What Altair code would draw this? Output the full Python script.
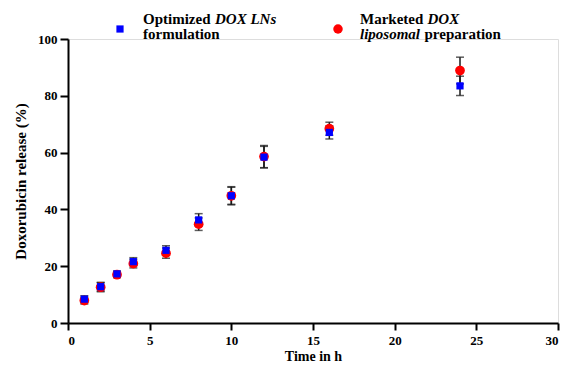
import altair as alt
import pandas as pd

# ---- data ----
times = [1, 2, 3, 4, 6, 8, 10, 12, 16, 24]
opt_mean = [8.4, 12.8, 17.3, 21.6, 25.6, 36.3, 44.8, 58.4, 67.1, 83.5]
opt_sd = [1.2, 1.5, 1.0, 1.4, 1.6, 2.2, 3.0, 3.8, 2.3, 3.4]
mkt_mean = [7.9, 12.6, 17.0, 20.9, 24.6, 34.8, 44.8, 58.6, 68.4, 88.9]
mkt_sd = [1.2, 1.6, 1.0, 1.5, 1.8, 2.2, 3.2, 3.9, 2.3, 4.7]
x_ticks = [0, 5, 10, 15, 20, 25, 30]
y_ticks = [0, 20, 40, 60, 80, 100]

FONT = "Liberation Serif"
BLUE = "#0000FF"
RED = "#FF0000"
BAR = "#1a1a1a"

rows = []
for t, m, s in zip(times, opt_mean, opt_sd):
    rows.append({"time": t, "mean": m, "sd": s, "series": "opt"})
for t, m, s in zip(times, mkt_mean, mkt_sd):
    rows.append({"time": t, "mean": m, "sd": s, "series": "mkt"})
df = pd.DataFrame(rows)

xs = alt.Scale(domain=[0, 30], nice=False, zero=False)
ys = alt.Scale(domain=[0, 100], nice=False)

xax = alt.Axis(values=x_ticks, title="Time in h", grid=False,
               labelFont=FONT, labelFontWeight="bold", labelFontSize=13,
               labelColor="black", labelPadding=4,
               titleFont=FONT, titleFontWeight="bold", titleFontSize=14,
               titleColor="black", titlePadding=2,
               domainColor="black", domainWidth=2, tickColor="black",
               tickWidth=2, tickSize=7)
yax = alt.Axis(values=y_ticks, title="Doxorubicin release (%)", grid=False,
               labelFont=FONT, labelFontWeight="bold", labelFontSize=13,
               labelColor="black", labelPadding=3,
               titleFont=FONT, titleFontWeight="bold", titleFontSize=15,
               titleColor="black", titlePadding=9,
               domainColor="black", domainWidth=2, tickColor="black",
               tickWidth=2, tickSize=8)

base = alt.Chart(df).transform_calculate(
    lo="datum.mean - datum.sd", hi="datum.mean + datum.sd"
)

x_enc = alt.X("time:Q", scale=xs, axis=xax)

rules = base.mark_rule(color=BAR, strokeWidth=1.5).encode(
    x=x_enc,
    y=alt.Y("lo:Q", scale=ys, axis=yax),
    y2="hi:Q",
)
cap_lo = base.mark_tick(color=BAR, orient="horizontal", size=8, thickness=1.5).encode(
    x=alt.X("time:Q", scale=xs), y=alt.Y("lo:Q", scale=ys)
)
cap_hi = base.mark_tick(color=BAR, orient="horizontal", size=8, thickness=1.5).encode(
    x=alt.X("time:Q", scale=xs), y=alt.Y("hi:Q", scale=ys)
)

red_pts = base.transform_filter("datum.series == 'mkt'").mark_point(
    shape="circle", filled=True, color=RED, size=95, opacity=1
).encode(x=alt.X("time:Q", scale=xs), y=alt.Y("mean:Q", scale=ys))

blue_pts = base.transform_filter("datum.series == 'opt'").mark_point(
    shape="square", filled=True, color=BLUE, size=52, opacity=1
).encode(x=alt.X("time:Q", scale=xs), y=alt.Y("mean:Q", scale=ys))

# ---- manual legend (mixed upright / italic text) ----
one = pd.DataFrame({"k": [0]})
LS = 15


def seg(txt, x, y, italic=False):
    return alt.Chart(one).mark_text(
        font=FONT, fontSize=LS, fontWeight="bold",
        fontStyle="italic" if italic else "normal",
        align="left", baseline="alphabetic", color="black",
    ).encode(text=alt.value(txt), x=alt.value(x), y=alt.value(y))


leg_blue = alt.Chart(one).mark_point(
    shape="square", filled=True, color=BLUE, size=52, opacity=1
).encode(x=alt.value(52), y=alt.value(-10))
leg_red = alt.Chart(one).mark_point(
    shape="circle", filled=True, color=RED, size=90, opacity=1
).encode(x=alt.value(270), y=alt.value(-10))

L1, L2 = -15.5, 0
legend = [
    leg_blue, leg_red,
    seg("Optimized", 75, L1),
    seg("DOX LNs", 147, L1, italic=True),
    seg("formulation", 75, L2),
    seg("Marketed", 292, L1),
    seg("DOX", 359.5, L1, italic=True),
    seg("liposomal", 292, L2, italic=True),
    seg("preparation", 356.5, L2),
]

chart = alt.layer(rules, cap_lo, cap_hi, red_pts, blue_pts, *legend).properties(
    width=490, height=284,
    autosize=alt.AutoSizeParams(type="none"),
    padding={"left": 60, "top": 31, "right": 8, "bottom": 41},
).configure_view(stroke=None).configure(background="white")

chart.save("out.html", embed_options={"renderer": "svg", "actions": False})
